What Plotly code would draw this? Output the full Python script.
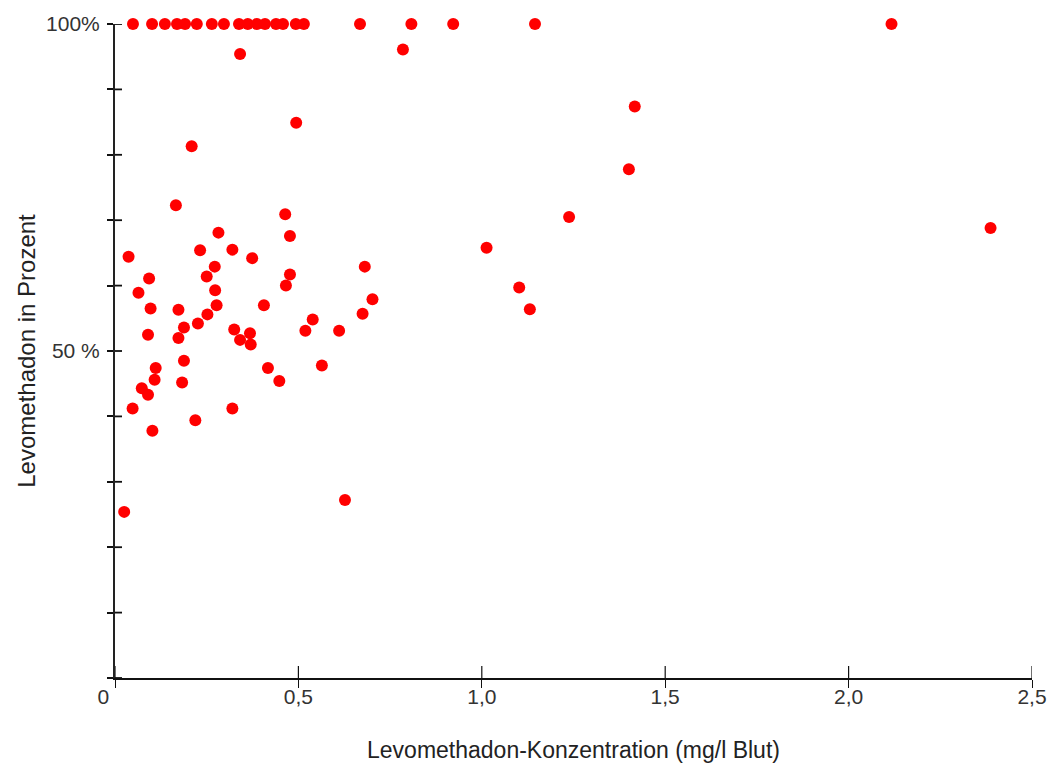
import plotly.graph_objects as go

# Levomethadon concentration (mg/l blood) and Levomethadon share (%)
conc = [
    0.049, 0.076, 0.101, 0.136, 0.169, 0.191, 0.223, 0.264, 0.297, 0.338, 0.362,
    0.387, 0.409, 0.439, 0.458, 0.493, 0.515, 0.668, 0.808, 0.922, 1.145, 2.117,
    0.341, 0.785, 0.494, 0.209, 1.417, 1.401, 1.238, 2.387, 1.013, 1.102, 1.131,
    0.681, 0.702, 0.675, 0.539, 0.519, 0.611, 0.564,
    0.166, 0.464, 0.282, 0.477, 0.232, 0.320, 0.037, 0.374, 0.272, 0.093, 0.250,
    0.477, 0.273, 0.466, 0.064,
    0.097, 0.173, 0.277, 0.406, 0.252, 0.226, 0.188, 0.090, 0.173, 0.325, 0.368,
    0.341, 0.370, 0.188, 0.111, 0.417, 0.108, 0.183, 0.448, 0.073, 0.090, 0.048,
    0.320, 0.219, 0.102, 0.025, 0.627,
]
percent = [
    100, 100.3, 100, 100, 100, 100, 100, 100, 100, 100, 100,
    100, 100, 100, 100, 100, 100, 100, 100, 100, 100, 100,
    95.4, 96.1, 84.9, 81.3, 87.4, 77.8, 70.5, 68.8, 65.8, 59.7, 56.4,
    62.9, 57.9, 55.7, 54.8, 53.1, 53.1, 47.8,
    72.3, 70.9, 68.1, 67.6, 65.4, 65.5, 64.4, 64.2, 62.9, 61.1, 61.4,
    61.7, 59.3, 60.0, 58.9,
    56.5, 56.3, 57.0, 57.0, 55.6, 54.2, 53.6, 52.5, 52.0, 53.3, 52.7,
    51.7, 51.0, 48.5, 47.4, 47.4, 45.6, 45.2, 45.4, 44.3, 43.3, 41.2,
    41.2, 39.4, 37.8, 25.4, 27.2,
]

x_tickvals = [0, 0.5, 1.0, 1.5, 2.0, 2.5]
x_ticktext = ["0" + "\u00a0" * 4, "0,5", "1,0", "1,5", "2,0", "2,5"]
y_tickvals = [0, 10, 20, 30, 40, 50, 60, 70, 80, 90, 100]
y_ticktext = ["", "", "", "", "", "50 %", "", "", "", "", "100%"]

FONT = "Liberation Sans, Arial, sans-serif"
TXT = "#333333"

fig = go.Figure()
fig.add_trace(go.Scatter(
    x=conc, y=percent, mode="markers",
    marker=dict(color="#ff0000", size=12, line=dict(width=0)),
    cliponaxis=False, showlegend=False,
))

# inner half of the crossing tick marks, placed at the axis tick values
for v in x_tickvals:
    fig.add_shape(type="line", xref="x", yref="y", x0=v, x1=v,
                  ysizemode="pixel", yanchor=0, y0=0, y1=12,
                  line=dict(color="#111", width=1.2), layer="above")
for v in y_tickvals:
    fig.add_shape(type="line", xref="x", yref="y", y0=v, y1=v,
                  xsizemode="pixel", xanchor=0, x0=0, x1=7,
                  line=dict(color="#111", width=1.8), layer="above")

fig.update_layout(
    width=1048, height=757,
    margin=dict(l=107, r=24, t=16, b=87),
    paper_bgcolor="white", plot_bgcolor="white",
    font=dict(family=FONT, color=TXT, size=21),
    xaxis=dict(
        range=[0, 2.5], tickvals=x_tickvals, ticktext=x_ticktext,
        ticks="outside", ticklen=8, tickwidth=1.2, tickcolor="#111",
        ticklabelstandoff=-9, automargin=False,
        showline=True, linecolor="#111", linewidth=1.5,
        showgrid=False, zeroline=False,
        tickfont=dict(size=21, color=TXT, family=FONT),
        title=dict(text="Levomethadon-Konzentration (mg/l Blut)" + "\u00a0" * 3,
                   font=dict(size=23, color="#222", family=FONT), standoff=35),
    ),
    yaxis=dict(
        range=[0, 100], tickvals=y_tickvals, ticktext=y_ticktext,
        ticks="outside", ticklen=6, tickwidth=1.8, tickcolor="#111",
        ticklabelstandoff=3, automargin=False,
        showline=True, linecolor="#222", linewidth=2,
        showgrid=False, zeroline=False,
        tickfont=dict(size=21, color=TXT, family=FONT),
        title=dict(text="Levomethadon in Prozent",
                   font=dict(size=24, color="#222", family=FONT), standoff=4),
    ),
)

fig.write_html("out.html")
